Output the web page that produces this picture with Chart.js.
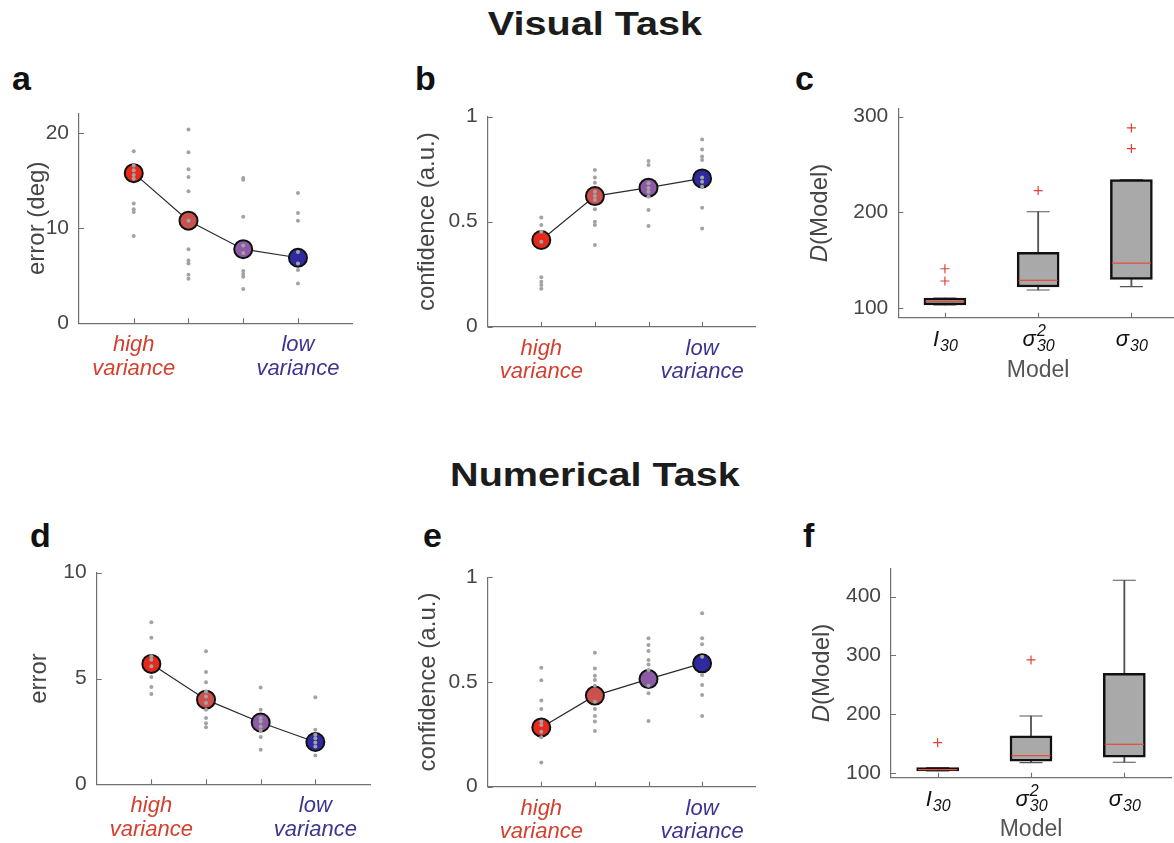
<!DOCTYPE html>
<html>
<head>
<meta charset="utf-8">
<script src="https://cdn.jsdelivr.net/npm/chart.js@4.4.1/dist/chart.umd.min.js"></script>
<style>
  body { margin: 0; background: #fff; width: 1174px; height: 843px; overflow: hidden; position: relative; font-family: "Liberation Sans", Arial, sans-serif; }
  canvas { position: absolute; }
  .task { position: absolute; left: 395px; width: 400px; text-align: center; font-size: 33px; font-weight: bold; line-height: 33px; color: #1c1c1c; transform: scaleX(1.2); }
  .letter { position: absolute; font-size: 34px; font-weight: bold; line-height: 34px; color: #111; }
</style>
</head>
<body>
<div class="task" style="top:7px">Visual Task</div>
<div class="task" style="top:458px">Numerical Task</div>
<div class="letter" style="left:12px;top:61px">a</div>
<div class="letter" style="left:415px;top:61px">b</div>
<div class="letter" style="left:795px;top:61px">c</div>
<div class="letter" style="left:30px;top:518px">d</div>
<div class="letter" style="left:423px;top:518px">e</div>
<div class="letter" style="left:803px;top:518px">f</div>

<canvas id="chartA"></canvas>
<canvas id="chartB"></canvas>
<canvas id="chartC"></canvas>
<canvas id="chartD"></canvas>
<canvas id="chartE"></canvas>
<canvas id="chartF"></canvas>

<script>
// conditions, ordered from high variance to low variance
const conditions = [1, 2, 3, 4];
const conditionColors = ['#e5291d', '#c9514e', '#8d5aa6', '#2f2b9f'];
const xTickText = [['high', 'variance'], '', '', ['low', 'variance']];
const xTickColors = ['#d3402f', '#000', '#000', '#3d3590'];

// visual task: error (deg)
const aMeans = [15.8, 10.8, 7.8, 6.9];
const aDots = [
  [18.1, 16.6, 16.1, 15.6, 15.2, 12.6, 12.0, 11.7, 9.2],
  [20.4, 18.0, 16.2, 15.4, 13.9, 10.8, 7.8, 6.6, 6.3, 5.1, 4.7],
  [15.3, 15.1, 11.2, 8.2, 7.4, 5.5, 5.2, 4.9, 3.6],
  [13.7, 11.6, 10.8, 7.5, 6.3, 5.6, 4.2]
];
const aTicks = [0, 10, 20];

// visual task: confidence
const bMeans = [0.413, 0.622, 0.662, 0.706];
const bDots = [
  [0.52, 0.484, 0.452, 0.405, 0.235, 0.214, 0.198, 0.181],
  [0.746, 0.711, 0.686, 0.643, 0.622, 0.603, 0.559, 0.50, 0.484, 0.389],
  [0.789, 0.770, 0.683, 0.660, 0.643, 0.619, 0.556, 0.479],
  [0.892, 0.844, 0.81, 0.794, 0.711, 0.690, 0.667, 0.567, 0.468]
];
const confTicks = [0, 0.5, 1];

// numerical task: error
const dMeans = [5.69, 4.0, 2.92, 2.0];
const dDots = [
  [7.66, 6.92, 6.05, 5.89, 5.58, 5.07, 4.6, 4.27],
  [6.29, 5.31, 4.82, 4.39, 4.15, 3.84, 3.52, 3.13, 2.89, 2.70],
  [4.58, 3.52, 3.13, 2.97, 2.73, 2.54, 2.23, 1.63],
  [4.11, 2.58, 2.34, 2.18, 1.97, 1.79, 1.36]
];
const dTicks = [0, 5, 10];

// numerical task: confidence
const eMeans = [0.283, 0.435, 0.514, 0.589];
const eDots = [
  [0.568, 0.508, 0.412, 0.371, 0.311, 0.295, 0.263, 0.236, 0.116],
  [0.640, 0.565, 0.530, 0.510, 0.482, 0.406, 0.371, 0.338, 0.311, 0.266],
  [0.709, 0.677, 0.648, 0.605, 0.584, 0.557, 0.482, 0.446, 0.314],
  [0.828, 0.709, 0.680, 0.621, 0.533, 0.486, 0.438, 0.338]
];

// model comparison: I30, sigma^2_30, sigma_30
const modelBase = ['I', 'σ', 'σ'];
const modelSup = ['', '2', ''];
const modelSub = ['30', '30', '30'];
const boxYTitle = ['D', '(Model)'];

const cWhiskerLow = [103.5, 119.1, 122.6];
const cQ1 = [103.5, 122.2, 130.2];
const cMedian = [107.3, 129.2, 147.2];
const cQ3 = [110.8, 158.3, 234.4];
const cWhiskerHigh = [110.8, 200.7, 234.4];
const cOutliers = [[141.3, 128.5], [222.9], [288.2, 266.7]];
const cTicks = [100, 200, 300];

const fWhiskerLow = [104, 118.1, 118.7];
const fQ1 = [104, 120.4, 127.2];
const fMedian = [106.2, 130, 149.2];
const fQ3 = [109.6, 163.4, 269.8];
const fWhiskerHigh = [109.6, 197.3, 427.7];
const fOutliers = [[152], [292.4], []];
const fTicks = [100, 200, 300, 400];

Chart.defaults.font.family = '"Liberation Sans", Arial, Helvetica, sans-serif';
const FONT = Chart.defaults.font.family;
const axisGray = '#707070';
const textGray = '#454545';
const dotGray = '#a3a3a3';

// page rectangles of each canvas and of its plot area [left, top, right, bottom]
const frames = {
  a: {left: 0, top: 95, width: 380, height: 295, plot: [79, 113.3, 352.7, 323.3]},
  b: {left: 385, top: 95, width: 385, height: 295, plot: [487.7, 116.7, 755.7, 326.7]},
  c: {left: 770, top: 95, width: 410, height: 295, plot: [898.3, 108.3, 1178, 317.7]},
  d: {left: 0, top: 555, width: 385, height: 288, plot: [96.7, 572.7, 370, 784.3]},
  e: {left: 385, top: 555, width: 385, height: 288, plot: [487.7, 577.3, 755.7, 786.7]},
  f: {left: 770, top: 555, width: 410, height: 288, plot: [891, 568.3, 1171, 777.7]}
};

function mount(id, fr) {
  const cv = document.getElementById(id);
  cv.width = fr.width;
  cv.height = fr.height;
  cv.style.left = fr.left + 'px';
  cv.style.top = fr.top + 'px';
  return cv;
}

function frameLayout(fr) {
  const [pl, pt, pr, pb] = fr.plot;
  return {
    padding: {left: 0, bottom: 0, top: pt - fr.top, right: fr.left + fr.width - pr},
    yWidth: pl - fr.left,
    xHeight: fr.top + fr.height - pb
  };
}

// MATLAB style ticks pointing into the axes
const inwardTicks = {
  id: 'inwardTicks',
  afterDraw(chart) {
    const {ctx, chartArea: area, scales: {x, y}} = chart;
    ctx.save();
    ctx.strokeStyle = axisGray;
    ctx.lineWidth = 1.1;
    ctx.beginPath();
    x.ticks.forEach(t => {
      const px = Math.round(x.getPixelForValue(t.value)) + 0.5;
      ctx.moveTo(px, area.bottom);
      ctx.lineTo(px, area.bottom - 5);
    });
    y.ticks.forEach(t => {
      const py = Math.round(y.getPixelForValue(t.value)) + 0.5;
      ctx.moveTo(area.left, py);
      ctx.lineTo(area.left + 5, py);
    });
    ctx.stroke();
    ctx.restore();
  }
};

// model names with sub/superscripts and the D(Model) axis title
function modelLabels(titleX) {
  return {
    id: 'modelLabels',
    afterDraw(chart) {
      const {ctx, chartArea: area, scales: {x}} = chart;
      const baseFont = 'italic 22px ' + FONT;
      const smallFont = 'italic 16px ' + FONT;
      ctx.save();
      ctx.fillStyle = '#111';
      ctx.textBaseline = 'alphabetic';
      ctx.textAlign = 'left';
      modelBase.forEach((b, i) => {
        ctx.font = baseFont;
        const wb = ctx.measureText(b).width;
        ctx.font = smallFont;
        const ws = Math.max(ctx.measureText(modelSub[i]).width, ctx.measureText(modelSup[i]).width);
        const x0 = x.getPixelForValue(i + 1) - (wb + ws) / 2;
        const yb = area.bottom + 28;
        ctx.font = baseFont;
        ctx.fillText(b, x0, yb);
        ctx.font = smallFont;
        ctx.fillText(modelSub[i], x0 + wb + 1, yb + 5);
        if (modelSup[i]) ctx.fillText(modelSup[i], x0 + wb + 1, yb - 10);
      });
      ctx.translate(titleX, (area.top + area.bottom) / 2);
      ctx.rotate(-Math.PI / 2);
      ctx.textBaseline = 'middle';
      ctx.fillStyle = textGray;
      const f1 = 'italic 24px ' + FONT, f2 = '24px ' + FONT;
      ctx.font = f1;
      const w1 = ctx.measureText(boxYTitle[0]).width;
      ctx.font = f2;
      const w2 = ctx.measureText(boxYTitle[1]).width;
      const sx = -(w1 + w2) / 2;
      ctx.font = f1;
      ctx.fillText(boxYTitle[0], sx, 0);
      ctx.font = f2;
      ctx.fillText(boxYTitle[1], sx + w1, 0);
      ctx.restore();
    }
  };
}

function yScale(lay, ticks, min, max, title, titleX, fr) {
  return {
    type: 'linear', min: min, max: max, beginAtZero: false,
    afterBuildTicks: s => { s.ticks = ticks.map(v => ({value: v})); },
    afterFit: s => { s.width = lay.yWidth; s.paddingTop = 0; s.paddingBottom = 0; },
    grid: {display: false, drawTicks: false},
    border: {display: true, color: axisGray, width: 1.2},
    ticks: {padding: 10, color: textGray, font: {size: 21}, callback: v => String(v)},
    title: {
      display: !!title, text: title, color: textGray, font: {size: 24},
      padding: {top: titleX - fr.left - 14.4, bottom: 0}
    }
  };
}

function meanPanel(id, fr, means, dots, yTicks, yMax, yTitle, titleX) {
  const lay = frameLayout(fr);
  new Chart(mount(id, fr), {
    type: 'scatter',
    data: {
      datasets: [
        {
          data: dots.flatMap((vals, i) => vals.map(v => ({x: conditions[i], y: v}))),
          pointRadius: 2, pointBackgroundColor: dotGray, pointBorderWidth: 0
        },
        {
          data: means.map((v, i) => ({x: conditions[i], y: v})),
          showLine: true, borderColor: '#2b2b2b', borderWidth: 1.2,
          pointRadius: 9, pointBackgroundColor: conditionColors,
          pointBorderColor: '#111', pointBorderWidth: 2
        }
      ]
    },
    options: {
      responsive: false, animation: false, events: [],
      layout: {padding: lay.padding, autoPadding: false},
      plugins: {legend: {display: false}, tooltip: {enabled: false}},
      scales: {
        x: {
          type: 'linear', min: 0, max: 5, offset: false,
          afterBuildTicks: s => { s.ticks = conditions.map(v => ({value: v})); },
          afterFit: s => { s.height = lay.xHeight; s.paddingLeft = 0; s.paddingRight = 0; },
          grid: {display: false, drawTicks: false},
          border: {display: true, color: axisGray, width: 1.2},
          ticks: {
            padding: 10, autoSkip: false, maxRotation: 0,
            color: c => xTickColors[c.index],
            font: {size: 22, style: 'italic', lineHeight: 1.08},
            callback: (v, i) => xTickText[i]
          }
        },
        y: yScale(lay, yTicks, 0, yMax, yTitle, titleX, fr)
      }
    },
    plugins: [inwardTicks]
  });
}

function boxPanel(id, fr, wLo, q1, med, q3, wHi, outliers, yTicks, yMin, yMax, titleX) {
  const lay = frameLayout(fr);
  const at = arr => arr.map((v, i) => ({x: i + 1, y: v}));
  new Chart(mount(id, fr), {
    type: 'scatter',
    data: {
      datasets: [
        {
          data: outliers.flatMap((vals, i) => vals.map(v => ({x: i + 1, y: v}))),
          pointStyle: 'cross', pointRadius: 4.5, pointBorderColor: '#e0402f', pointBorderWidth: 1.2
        },
        {
          data: at(med),
          pointStyle: 'line', pointRadius: 19.5, pointBorderColor: '#e2513f', pointBorderWidth: 1.3
        },
        {
          type: 'bar', grouped: false, barThickness: 42,
          data: q1.map((v, i) => ({x: i + 1, y: [v, q3[i]]})),
          backgroundColor: '#a9a9a9', borderColor: '#111', borderWidth: 2.5, borderSkipped: false
        },
        {
          data: at(wLo).concat(at(wHi)),
          pointStyle: 'line', pointRadius: 11.5, pointBorderColor: '#555', pointBorderWidth: 1.1
        },
        {
          type: 'bar', grouped: false, barThickness: 1.2,
          data: wLo.map((v, i) => ({x: i + 1, y: [v, q1[i]]}))
            .concat(wHi.map((v, i) => ({x: i + 1, y: [q3[i], v]}))),
          backgroundColor: '#555', borderWidth: 0
        }
      ]
    },
    options: {
      responsive: false, animation: false, events: [],
      layout: {padding: lay.padding, autoPadding: false},
      plugins: {legend: {display: false}, tooltip: {enabled: false}},
      scales: {
        x: {
          type: 'linear', min: 0.5, max: 3.5, offset: false,
          afterBuildTicks: s => { s.ticks = [1, 2, 3].map(v => ({value: v})); },
          afterFit: s => { s.height = lay.xHeight; s.paddingLeft = 0; s.paddingRight = 0; },
          grid: {display: false, drawTicks: false},
          border: {display: true, color: axisGray, width: 1.2},
          ticks: {callback: () => ''},
          title: {display: true, text: 'Model', color: '#555', font: {size: 23}, padding: {top: 0, bottom: fr.height > 290 ? 6 : 0}}
        },
        y: yScale(lay, yTicks, yMin, yMax, '', 0, fr)
      }
    },
    plugins: [inwardTicks, modelLabels(titleX - fr.left)]
  });
}

meanPanel('chartA', frames.a, aMeans, aDots, aTicks, 22.1, 'error (deg)', 37.5);
meanPanel('chartB', frames.b, bMeans, bDots, confTicks, 1, 'confidence (a.u.)', 427);
boxPanel('chartC', frames.c, cWhiskerLow, cQ1, cMedian, cQ3, cWhiskerHigh, cOutliers, cTicks, 90.2, 308.7, 820);
meanPanel('chartD', frames.d, dMeans, dDots, dTicks, 10, 'error', 39);
meanPanel('chartE', frames.e, eMeans, eDots, confTicks, 1, 'confidence (a.u.)', 428);
boxPanel('chartF', frames.f, fWhiskerLow, fQ1, fMedian, fQ3, fWhiskerHigh, fOutliers, fTicks, 92.5, 448, 822);
</script>
</body>
</html>
